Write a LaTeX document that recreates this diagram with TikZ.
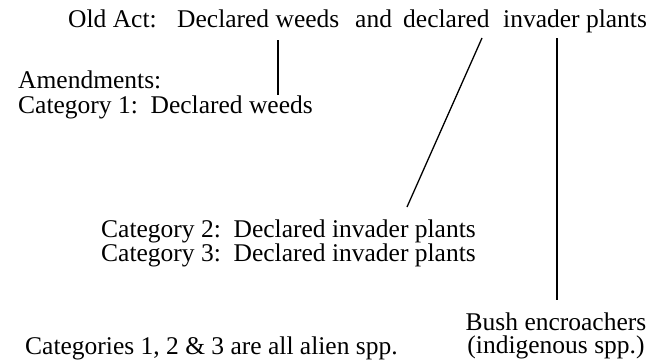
\documentclass[tikz,border=0pt]{standalone}
\usepackage{fontspec}
\setmainfont{Liberation Serif}
\frenchspacing
\begin{document}
\begin{tikzpicture}[x=1pt,y=-1pt,
  txt/.style={inner sep=0pt, anchor=base west, font=\fontsize{25.5}{30}\selectfont},
  conn/.style={line width=1.3pt}]
\useasboundingbox (0,0) rectangle (650,362);
% top line
\node[txt] (old) at (68,27) {Old Act:};
\node[txt] (dw)  at (177,27) {Declared weeds};
\node[txt] (and) at (355,27) {and};
\node[txt] (dec) at (403,27) {declared};
\node[txt] (inv) at (503,27) {invader plants};
% amendments
\node[txt] (amd) at (18,88) {Amendments:};
\node[txt] (c1)  at (18,113) {Category 1:\ \ Declared weeds};
\node[txt] (c2)  at (101,237) {Category 2:\ \ Declared invader plants};
\node[txt] (c3)  at (101,261) {Category 3:\ \ Declared invader plants};
\node[txt, anchor=base] (bush) at (556,330) {Bush encroachers};
\node[txt, anchor=base] (ind)  at (556,353) {(indigenous spp.)};
\node[txt] (all) at (25,354) {Categories 1, 2 \& 3 are all alien spp.};
% connector ends
\coordinate (a1) at (278,40);
\coordinate (a2) at (278,95);
\coordinate (b1) at (482,38);
\coordinate (b2) at (407,207);
\coordinate (v1) at (557,38);
\coordinate (v2) at (557,300);
\draw[conn] (a1) -- (a2);
\draw[conn] (b1) -- (b2);
\draw[conn] (v1) -- (v2);
\end{tikzpicture}
\end{document}
